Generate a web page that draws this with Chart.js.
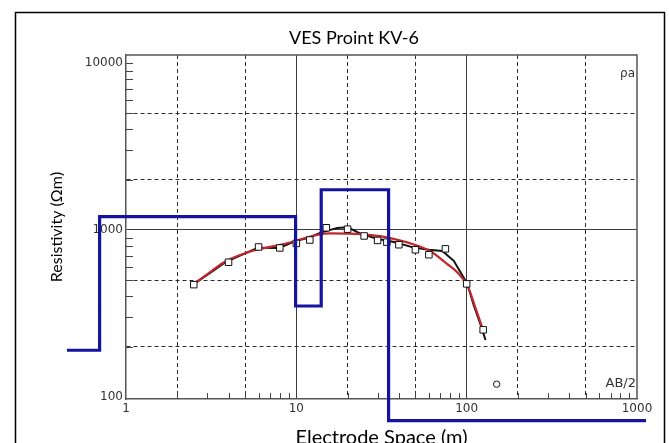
<!DOCTYPE html>
<html>
<head>
<meta charset="utf-8">
<script src="https://cdn.jsdelivr.net/npm/chart.js@4.4.1/dist/chart.umd.min.js"></script>
<style>
  html, body { margin: 0; padding: 0; background: #fff; overflow: hidden; }
  canvas { display: block; }
</style>
</head>
<body>
<canvas id="vesChart" width="669" height="460"></canvas>
<script>
// field readings: AB/2 (m) and apparent resistivity (ohm-m)
const obsSpacing = [2.5, 4, 6, 8, 10, 12, 15, 20, 25, 30, 34, 40, 50, 60, 75, 100, 125, 150];
const obsRho = [470, 640, 790, 780, 830, 870, 1030, 1010, 920, 865, 845, 815, 760, 710, 770, 475, 252, 119];

// black curve (calculated)
const calcSpacing = [2.5, 3.9, 5.95, 7.9, 9.9, 11.8, 13.8, 17.4, 20, 23.8, 29.8, 37.4, 49, 60, 72, 84, 92, 101, 110, 121, 129];
const calcRho = [473, 647, 783, 779, 857, 897, 960, 1028, 1037, 951, 885, 846, 783, 760, 748, 653, 557, 475, 354, 269, 219];

// red curve (smoothed fit)
const fitSpacing = [2.5, 3.1, 3.9, 5.5, 8.6, 13.5, 15.8, 20, 31, 49, 61, 77, 88, 101, 113, 124];
const fitRho = [473, 557, 653, 748, 826, 938, 953, 951, 918, 818, 748, 624, 557, 464, 338, 256];

// layered model: layer edges on the AB/2 axis, resistivity of each layer
const layerEdges = [0.45, 0.7, 9.9, 14, 34.8, 1130];
const layerRho = [190, 1200, 350, 1740, 72];

const xTickValues = [1, 2, 5, 10, 20, 50, 100, 200, 500, 1000];
const yTickValues = [100, 200, 500, 1000, 2000, 5000, 10000];
const xLabels = ['1', '10', '100', '1000'];
const yLabels = ['100', '1000', '10000'];
const minorSteps = [2, 3, 4, 5, 6, 7, 8, 9];

function toPoints(xs, ys) {
    return xs.map((x, i) => ({ x: x, y: ys[i] }));
}

function stepPoints(edges, rho) {
    const pts = [];
    rho.forEach((r, i) => {
        pts.push({ x: edges[i], y: r });
        pts.push({ x: edges[i + 1], y: r });
    });
    return pts;
}

function isDecade(v) {
    const l = Math.log10(v);
    return Math.abs(l - Math.round(l)) < 1e-9;
}

function gridColor(hidden) {
    return (ctx) => {
        const v = ctx.tick ? ctx.tick.value : null;
        if (v === null || hidden.includes(v)) return 'rgba(0,0,0,0)';
        return isDecade(v) ? '#3c3c3c' : '#2c2c2c';
    };
}

function gridDash(ctx) {
    return (ctx.tick && !isDecade(ctx.tick.value)) ? [4, 3] : [];
}

const decorations = {
    id: 'decorations',
    beforeDatasetsDraw(chart) {
        const { ctx, chartArea: a, scales: { x, y } } = chart;
        ctx.save();
        ctx.strokeStyle = '#444';
        ctx.lineWidth = 1;
        ctx.beginPath();
        [1, 10, 100].forEach(d => minorSteps.forEach(m => {
            const px = Math.round(x.getPixelForValue(d * m)) + 0.5;
            ctx.moveTo(px, a.bottom);
            ctx.lineTo(px, a.bottom - 6);
        }));
        [100, 1000].forEach(d => minorSteps.forEach(m => {
            const py = Math.round(y.getPixelForValue(d * m)) + 0.5;
            ctx.moveTo(a.left, py);
            ctx.lineTo(a.left + 7, py);
        }));
        const top = Math.round(y.getPixelForValue(10000)) + 0.5;
        ctx.moveTo(a.left, top);
        ctx.lineTo(a.left + 7, top);
        ctx.stroke();

        // top and right edge of the plot box
        ctx.strokeStyle = '#555';
        ctx.lineWidth = 1.5;
        ctx.beginPath();
        ctx.moveTo(a.left, a.top);
        ctx.lineTo(a.right, a.top);
        ctx.lineTo(a.right, a.bottom);
        ctx.stroke();
        ctx.restore();
    },
    afterDraw(chart) {
        const { ctx, chartArea: a } = chart;
        ctx.save();
        ctx.fillStyle = '#000';
        ctx.font = '18px Lato';
        ctx.textAlign = 'center';
        ctx.fillText('VES Proint KV-6', 354, 44);

        ctx.fillStyle = '#333';
        ctx.font = '12px "DejaVu Sans"';
        ctx.textAlign = 'right';
        ctx.fillText('ρa', a.right - 2, 77);
        ctx.font = '13px "DejaVu Sans"';
        ctx.fillText('AB/2', a.right - 1, 387);

        ctx.strokeStyle = '#000';
        ctx.lineWidth = 1.5;
        ctx.strokeRect(15.5, 12.5, 649, 520);
        ctx.restore();
    }
};

Chart.defaults.font.family = '"DejaVu Sans"';

new Chart(document.getElementById('vesChart'), {
    type: 'scatter',
    data: {
        datasets: [
            {
                label: 'Model',
                data: stepPoints(layerEdges, layerRho),
                showLine: true,
                borderColor: '#1414a0',
                borderWidth: 3.2,
                pointRadius: 0,
                clip: false,
                order: 0
            },
            {
                label: 'Observed',
                data: toPoints(obsSpacing, obsRho),
                showLine: false,
                pointStyle: (c) => c.dataIndex === obsSpacing.length - 1 ? 'circle' : 'rect',
                pointRadius: (c) => c.dataIndex === obsSpacing.length - 1 ? 3.2 : 4.6,
                pointBackgroundColor: '#fff',
                pointBorderColor: '#111',
                pointBorderWidth: 1,
                order: 1
            },
            {
                label: 'Fit',
                data: toPoints(fitSpacing, fitRho),
                showLine: true,
                borderColor: '#c4262e',
                borderWidth: 2.2,
                pointRadius: 0,
                cubicInterpolationMode: 'monotone',
                order: 2
            },
            {
                label: 'Calculated',
                data: toPoints(calcSpacing, calcRho),
                showLine: true,
                borderColor: '#111',
                borderWidth: 2,
                pointRadius: 0,
                order: 3
            }
        ]
    },
    options: {
        responsive: false,
        animation: false,
        events: [],
        layout: { padding: { left: 47, right: 32, top: 55, bottom: 10 } },
        plugins: {
            legend: { display: false },
            tooltip: { enabled: false }
        },
        scales: {
            x: {
                type: 'logarithmic',
                bounds: 'data',
                afterDataLimits: (s) => { s.min = 1; s.max = 1000; },
                afterBuildTicks: (s) => { s.ticks = xTickValues.map(v => ({ value: v })); },
                afterFit: (s) => { s.height = 51; },
                grid: { color: gridColor([1, 1000]), lineWidth: 1, drawTicks: false },
                border: { color: '#555', width: 1.5, dash: gridDash },
                ticks: {
                    autoSkip: false,
                    maxRotation: 0,
                    padding: 3,
                    color: '#333',
                    font: { size: 12 },
                    callback: (v) => xLabels.includes(String(v)) ? String(v) : ''
                },
                title: {
                    display: true,
                    text: 'Electrode Space (m)',
                    color: '#000',
                    font: { family: 'Lato', size: 20 },
                    padding: 0
                }
            },
            y: {
                type: 'logarithmic',
                min: 97,
                max: 11170,
                afterBuildTicks: (s) => { s.ticks = yTickValues.map(v => ({ value: v })); },
                afterFit: (s) => { s.width = 79; },
                grid: { color: gridColor([100, 10000]), lineWidth: 1, drawTicks: false },
                border: { color: '#555', width: 1.5, dash: gridDash },
                ticks: {
                    autoSkip: false,
                    padding: 3,
                    color: '#333',
                    font: { size: 12 },
                    callback: (v) => yLabels.includes(String(v)) ? String(v) : ''
                },
                title: {
                    display: true,
                    text: 'Resistivity (Ωm)',
                    color: '#000',
                    font: { family: 'Lato', size: 16 },
                    padding: 0
                }
            }
        }
    },
    plugins: [decorations]
});
</script>
</body>
</html>
